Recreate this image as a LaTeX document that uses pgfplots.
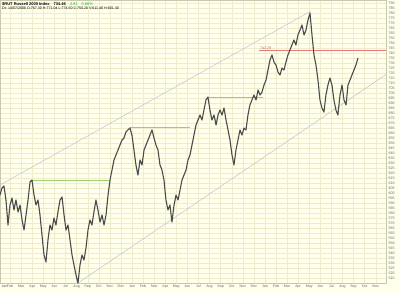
\documentclass[border=0pt]{standalone}
\usepackage{pgfplots}
\pgfplotsset{compat=1.18}
\usepackage{fontspec}
\setmainfont{Liberation Sans}
\definecolor{bg}{RGB}{255,255,236}
\definecolor{gridc}{RGB}{238,236,204}
\definecolor{price}{RGB}{75,75,75}
\definecolor{chan}{RGB}{190,195,210}
\definecolor{resist}{RGB}{160,205,110}
\definecolor{redl}{RGB}{228,120,120}
\definecolor{upg}{RGB}{40,170,40}
\pgfplotstableread{
m val
0.09 598
0.27 605
0.45 607
0.63 593
0.81 568
0.99 588
1.17 595
1.35 583
1.53 593
1.72 581
1.90 588
2.08 573
2.26 563
2.44 578
2.62 593
2.80 611
2.98 613
3.16 598
3.34 588
3.52 593
3.70 578
3.88 558
4.06 538
4.24 531
4.42 553
4.60 568
4.78 563
4.96 575
5.14 568
5.32 581
5.51 593
5.69 596
5.87 578
6.05 563
6.23 568
6.41 553
6.59 538
6.77 528
6.95 518
7.13 510
7.31 528
7.49 538
7.67 533
7.85 545
8.03 563
8.21 573
8.39 568
8.57 581
8.75 593
8.93 583
9.12 571
9.30 578
9.48 568
9.66 578
9.84 598
10.02 613
10.20 623
10.38 633
10.56 638
10.74 643
10.92 648
11.10 653
11.28 655
11.46 661
11.64 663
11.82 665
12.00 658
12.18 643
12.36 628
12.54 618
12.73 633
12.91 628
13.09 643
13.27 648
13.45 653
13.63 658
13.81 663
13.99 655
14.17 648
14.35 643
14.53 628
14.71 623
14.89 613
15.07 593
15.25 583
15.43 588
15.61 571
15.80 588
15.98 598
16.16 593
16.34 603
16.52 613
16.70 618
16.88 623
17.06 633
17.24 638
17.42 648
17.60 658
17.78 668
17.96 673
18.14 678
18.32 673
18.50 683
18.68 693
18.86 696
19.04 683
19.22 673
19.41 678
19.59 668
19.77 678
19.95 683
20.13 678
20.31 685
20.49 673
20.67 663
20.85 653
21.03 638
21.21 628
21.39 643
21.57 653
21.75 663
21.93 658
22.11 665
22.29 663
22.47 678
22.65 688
22.83 693
23.01 698
23.20 693
23.38 703
23.56 698
23.74 701
23.92 708
24.10 713
24.28 723
24.46 733
24.64 738
24.82 731
25.00 728
25.18 721
25.36 718
25.54 725
25.72 723
25.90 731
26.08 738
26.26 743
26.44 748
26.62 753
26.80 748
26.98 758
27.17 763
27.35 768
27.53 758
27.71 763
27.89 773
28.07 780
28.25 758
28.43 738
28.61 728
28.79 713
28.97 693
29.15 685
29.33 681
29.51 698
29.69 708
29.87 715
30.05 708
30.23 693
30.41 683
30.59 678
30.78 698
30.96 708
31.14 693
31.32 688
31.50 708
31.68 713
31.86 718
32.04 723
32.22 728
32.40 735
}\rut
\begin{document}
\begin{tikzpicture}
\useasboundingbox (0,0) rectangle (400pt,293pt);
\fill[bg] (0,0) rectangle (400pt,293pt);
\begin{axis}[
  at={(0pt,10pt)}, anchor=south west,
  scale only axis, width=386pt, height=283pt,
  xmin=0.09, xmax=34.93, ymin=510, ymax=793,
  axis background/.style={fill=bg},
  axis line style={gridc!85!black, line width=0.3pt},
  grid=major, grid style={gridc, line width=0.25pt},
  major tick length=0pt,
  xtick={1,...,34},
  xticklabels={Feb,Mar,Apr,May,Jun,Jul,Aug,Sep,Oct,Nov,Dec,Jan,Feb,Mar,Apr,May,Jun,Jul,Aug,Sep,Oct,Nov,Dec,Jan,Feb,Mar,Apr,May,Jun,Jul,Aug,Sep,Oct,Nov},
  extra x ticks={0.5}, extra x tick labels={Jan},
  extra x tick style={grid=none},
  ytick={515,520,...,790},
  yticklabel pos=right,
  /pgf/number format/assume math mode=true,
  /pgf/number format/fixed,
  /pgf/number format/1000 sep={},
  tick label style={font=\fontsize{3.6}{4}\selectfont, text=black!60},
  xticklabel style={yshift=1.5pt},
  yticklabel style={xshift=-1pt},
  clip=true,
]
\addplot[chan, line width=0.5pt] coordinates {(0.09,608) (28.16,782)};
\addplot[chan, line width=0.5pt] coordinates {(7.13,510) (34.93,718.5)};
\addplot[resist, line width=0.5pt] coordinates {(2.98,613) (10.02,613)};
\addplot[resist, line width=0.5pt] coordinates {(11.8,666) (17.2,666)};
\addplot[resist, line width=0.5pt] coordinates {(18.86,696) (23.83,696)};
\addplot[redl, line width=0.5pt] coordinates {(23.5,742.29) (34.93,742.29)}
  node[pos=0, anchor=south west, inner sep=0.6pt, font=\fontsize{3.6}{4}\selectfont, text=redl!80!black] {742.29};
\addplot[price, line width=1.1pt, line join=round] table[x=m, y=val] {\rut};
\end{axis}
\node[anchor=north west, inner sep=0pt, font=\fontsize{4}{4.5}\selectfont] at (2pt,291pt)
  {\textbf{\$RUT Russell 2000 Index}\quad \textbf{734.46}\quad {\color{upg}4.81\quad 0.66\%}};
\node[anchor=north west, inner sep=0pt, font=\fontsize{3.6}{4}\selectfont] at (2pt,286pt)
  {Dt: 14/07/2006 O:767.30 H:771.04 L:774.50 C:750.20 V:611.46 H:601.40};
\end{tikzpicture}
\end{document}
